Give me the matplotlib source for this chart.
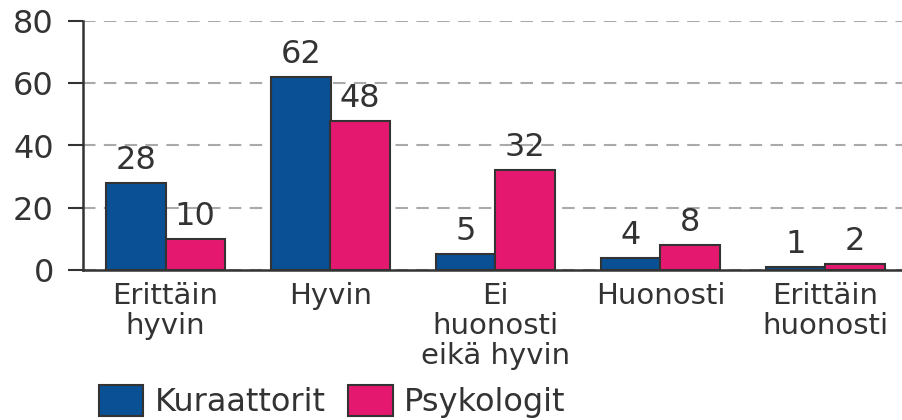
import numpy as np
import matplotlib
matplotlib.use("Agg")
import matplotlib.pyplot as plt
from matplotlib.patches import Patch

## data ##
categories = ["Erittäin\nhyvin", "Hyvin", "Ei\nhuonosti\neikä hyvin", "Huonosti", "Erittäin\nhuonosti"]
kuraattorit = [28, 62, 5, 4, 1]
psykologit = [10, 48, 32, 8, 2]
series_names = ["Kuraattorit", "Psykologit"]

blue = "#0a5094"
pink = "#e5186f"
edge = "#333333"
txt = "#333333"
fs = 23

plt.rcParams['font.family'] = ['DejaVu Sans']

fig = plt.figure(figsize=(9.02, 4.2), dpi=100)
ax = fig.add_axes([83 / 902, 1 - 270 / 420, 1 - 83 / 902, (270 - 21) / 420])

x = np.arange(len(categories))
w = 0.36
b1 = ax.bar(x - w / 2, kuraattorit, w, color=blue, edgecolor=edge, linewidth=1.5, zorder=3)
b2 = ax.bar(x + w / 2, psykologit, w, color=pink, edgecolor=edge, linewidth=1.5, zorder=3)
ax.bar_label(b1, padding=5, fontsize=fs, color=txt)
ax.bar_label(b2, padding=5, fontsize=fs, color=txt)

ax.set_ylim(0, 80)
ax.set_xlim(-0.5, -0.5 + (902 - 83) / 165)
ax.set_yticks([0, 20, 40, 60, 80])
ax.set_xticks(x)
ax.set_xticklabels(categories, linespacing=1.08)

ax.yaxis.grid(True, linestyle=(0, (6, 4)), color="#aaaaaa", linewidth=1.5, zorder=0)
ax.tick_params(axis='y', length=11, width=1.5, color=edge, labelsize=fs, labelcolor=txt, pad=10)
ax.tick_params(axis='x', length=0, labelsize=21, labelcolor=txt, pad=9)
for s in ['top', 'right']:
	ax.spines[s].set_visible(False)
ax.spines['left'].set_color(edge)
ax.spines['bottom'].set_color(edge)
ax.spines['left'].set_linewidth(1.8)
ax.spines['bottom'].set_linewidth(1.8)

handles = [Patch(facecolor=blue, edgecolor=edge, linewidth=1.5),
	Patch(facecolor=pink, edgecolor=edge, linewidth=1.5)]
fig.legend(handles, series_names, loc='lower left', bbox_to_anchor=(97 / 902, 0.0), ncol=2,
	frameon=False, fontsize=fs, handlelength=1.4, handleheight=1.1, handletextpad=0.35,
	columnspacing=0.7, labelcolor=txt, borderaxespad=0, borderpad=0.05)

fig.savefig("out.png", dpi=100)
